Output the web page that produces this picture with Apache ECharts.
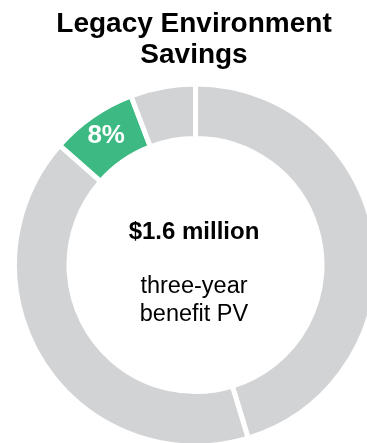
<!DOCTYPE html>
<html>
<head>
<meta charset="utf-8">
<script src="https://cdn.jsdelivr.net/npm/echarts@6/dist/echarts.min.js"></script>
<style>
html,body{margin:0;padding:0;background:#fff;}
#chart{width:367px;height:443px;}
</style>
</head>
<body>
<div id="chart"></div>
<script>
var titleLines = ['Legacy Environment', 'Savings'];
var centerValue = '$1.6 million';
var centerCaption = ['three-year', 'benefit PV'];
var segmentNames = ['Other A', 'Other B', 'Legacy Environment Savings', 'Other C'];
var segmentValues = [45.3, 41.2, 7.7, 5.8];
var segmentLabels = ['', '', '8%', ''];
var segmentColors = ['#d2d3d5', '#d2d3d5', '#3db983', '#d2d3d5'];

var chart = echarts.init(document.getElementById('chart'), null, {renderer: 'canvas'});
var font = 'Liberation Sans, Arial, Helvetica, sans-serif';

var data = segmentValues.map(function (v, i) {
  var item = {name: segmentNames[i], value: v, itemStyle: {color: segmentColors[i]}};
  if (segmentLabels[i]) {
    item.label = {
      show: true, position: 'inside', formatter: segmentLabels[i],
      color: '#ffffff', fontSize: 26, fontWeight: 'bold', fontFamily: font
    };
  }
  return item;
});

chart.setOption({
  animation: false,
  series: [{
    type: 'pie',
    center: [195.5, 265],
    radius: [126.5, 181],
    startAngle: 90,
    clockwise: true,
    avoidLabelOverlap: false,
    label: {show: false},
    labelLine: {show: false},
    emphasis: {disabled: true},
    itemStyle: {borderColor: '#ffffff', borderWidth: 5},
    data: data
  }],
  graphic: [
    {type: 'text', x: 194, y: 38.5, style: {text: titleLines[0], textAlign: 'center', textVerticalAlign: 'bottom', font: 'bold 28px ' + font, fill: '#000'}},
    {type: 'text', x: 194, y: 69.5, style: {text: titleLines[1], textAlign: 'center', textVerticalAlign: 'bottom', font: 'bold 28px ' + font, fill: '#000'}},
    {type: 'text', x: 194, y: 244, style: {text: centerValue, textAlign: 'center', textVerticalAlign: 'bottom', font: 'bold 24px ' + font, fill: '#000'}},
    {type: 'text', x: 194, y: 298.5, style: {text: centerCaption[0], textAlign: 'center', textVerticalAlign: 'bottom', font: '23.5px ' + font, fill: '#000'}},
    {type: 'text', x: 194, y: 327, style: {text: centerCaption[1], textAlign: 'center', textVerticalAlign: 'bottom', font: '23.5px ' + font, fill: '#000'}}
  ]
});
</script>
</body>
</html>
